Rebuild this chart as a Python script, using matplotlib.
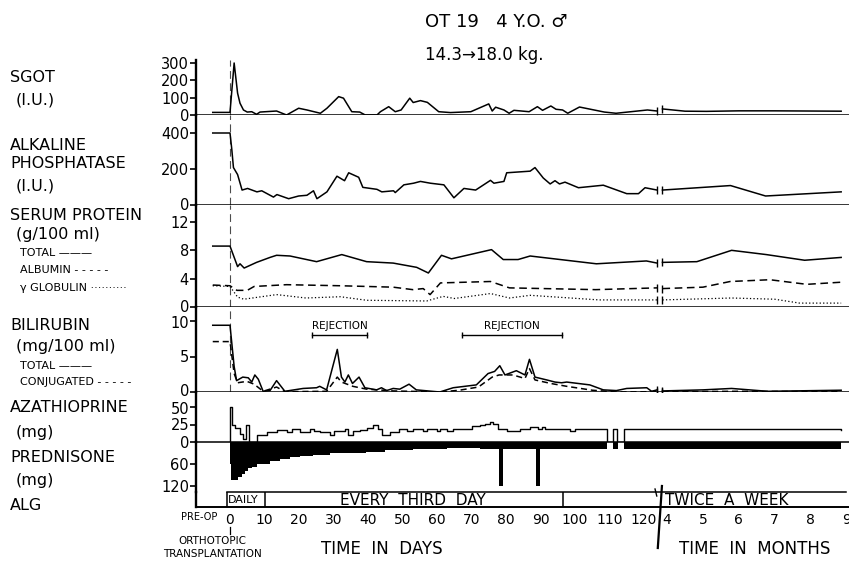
import numpy as np
import matplotlib.pyplot as plt
from matplotlib.transforms import blended_transform_factory, ScaledTranslation

plt.rcParams['font.family'] = ['DejaVu Sans']

# ---- data (days after transplant, pre-op drawn at negative days) ----
sgot_day = [-5, 0, 1.2, 2.2, 2.9, 3.9, 5.0, 6.3, 7.7, 8.7, 13.5, 16.4, 19.9, 22.3, 26.2,
            28.1, 31.5, 32.9, 35.3, 37.6, 39.2, 42.6, 43.6, 46, 47.9, 49.6, 52.1, 53.1,
            55.2, 57.2, 60.5, 63.9, 69.8, 75, 76, 77, 79.4, 80.9, 82.3, 86.7, 89.1, 90.6,
            93, 94.5, 96.4, 97.9, 101.3, 108.5, 111.9, 121, 123.8]
sgot_val = [15, 15, 300, 126, 68, 29, 17, 19, 4, 17, 23, 0, 39, 29, 10,
            39, 106, 97, 19, 17, 0, 0, 19, 48, 19, 29, 97, 72,
            83, 73, 19, 14, 19, 64, 23, 45, 29, 10, 27, 19, 48, 27,
            52, 33, 29, 10, 46, 17, 10, 29, 23]
sgot_month = [3.87, 4.5, 5.1, 6.0, 7.0, 8.86]
sgot_mval = [35, 22, 21, 24, 24, 22]

alk_day = [-5, 0, 0.5, 1.0, 2.2, 3.5, 5.1, 7.8, 9.2, 12.6, 13.6, 17, 19.9, 22.3, 24.2, 25.2,
           28.1, 31, 33.2, 34.4, 37.3, 38.5, 42.6, 44, 47.4, 47.9, 50.4, 53.2, 55.2, 58.1,
           62, 64.9, 67.8, 71.2, 75.5, 76.5, 79.4, 80.2, 87, 88.4, 90.8, 92.8, 94.2, 95.5,
           97.1, 101, 108.2, 115, 118.4, 120.3, 123.8]
alk_val = [400, 400, 313, 208, 169, 83, 92, 73, 79, 44, 58, 35, 50, 54, 79, 35,
           73, 160, 135, 179, 154, 98, 87, 73, 79, 69, 112, 121, 131, 121,
           112, 40, 92, 83, 137, 121, 131, 179, 188, 208, 150, 117, 135, 117,
           127, 96, 110, 63, 63, 96, 83]
alk_month = [3.87, 5.77, 6.75, 8.86]
alk_mval = [83, 108, 50, 73]

prot_day = [-5, 0, 2.2, 2.9, 4.1, 7.7, 11.6, 13.5, 17.4, 25.1, 32.4, 39.6, 47.3, 54.1,
            57.5, 61.3, 64.2, 75.8, 79.2, 83.5, 87, 106.2, 120.7, 123.8]
prot_total = [8.6, 8.6, 5.7, 6.1, 5.5, 6.3, 7.0, 7.3, 7.2, 6.4, 7.4, 6.4, 6.2, 5.6,
              4.8, 7.3, 6.8, 8.1, 6.7, 6.7, 7.2, 6.1, 6.5, 6.2]
prot_month = [3.87, 4.83, 5.8, 6.77, 7.84, 8.86]
prot_mtotal = [6.3, 6.4, 8.0, 7.4, 6.6, 7.0]

alb_day = [-5, 0, 2, 5, 7, 16.4, 32, 47.3, 53, 56, 58, 61, 75.5, 81, 106, 123.8]
alb_val = [3.1, 3.0, 2.35, 2.35, 2.9, 3.15, 3.0, 2.8, 2.45, 2.6, 1.75, 3.4, 3.6, 2.7, 2.45, 2.7]
alb_month = [3.87, 5.0, 5.76, 6.87, 7.9, 8.86]
alb_mval = [2.6, 2.8, 3.6, 3.85, 3.2, 3.5]

glob_day = [-5, 0, 2.2, 4, 13.5, 22, 32, 39.6, 57, 61.8, 65, 75.5, 81, 87, 107, 123.8]
glob_val = [3.0, 2.9, 1.4, 1.1, 1.75, 1.27, 1.45, 0.95, 0.85, 1.5, 1.2, 1.9, 1.27, 1.65, 1.0, 1.0]
glob_month = [3.87, 5.8, 7.0, 7.7, 8.86]
glob_mval = [1.0, 1.27, 1.1, 0.55, 0.55]

bili_day = [-5, 0, 1.2, 1.9, 3.7, 5.3, 6.3, 7.2, 8.2, 9.6, 11.6, 13.5, 15.9, 21.2, 25.1, 26,
            28, 31.1, 32.3, 33.3, 34.3, 35.5, 37.4, 39.1, 42.5, 43.9, 45.4, 47.3, 49.2, 51.9,
            54, 60.8, 64.7, 71.4, 74.8, 76.7, 78.2, 79.7, 83, 85.5, 86.8, 88.4, 91.8, 94.2,
            96.1, 97.6, 104.3, 108.2, 112, 115, 120.8, 122.2, 123.8]
bili_total = [9.4, 9.4, 3.6, 1.6, 2.1, 2.0, 1.4, 2.4, 1.8, 0.1, 0.2, 1.6, 0.1, 0.5, 0.6, 0.8,
              0.3, 6.0, 2.1, 1.4, 2.4, 1.2, 2.1, 0.6, 0.3, 0.6, 0.2, 0.5, 0.4, 1.1,
              0.3, 0.0, 0.6, 1.0, 2.6, 2.9, 3.7, 2.4, 3.0, 2.4, 4.6, 2.1, 1.7, 1.4,
              1.3, 1.4, 1.0, 0.3, 0.2, 0.5, 0.6, 0.1, 0.3]
bili_month = [3.87, 5.0, 5.8, 6.8, 8.86]
bili_mtotal = [0.15, 0.3, 0.5, 0.1, 0.25]

conj_day = [-5, 0, 1.2, 2.2, 4.9, 7, 9.6, 13.5, 15.9, 28, 31.1, 32.3, 35.6, 39.6, 47.3,
            60.8, 66.5, 72, 76, 78, 82, 85.5, 86.8, 88.4, 93, 97.6, 105, 112, 123.8]
conj_val = [7.1, 7.1, 2.6, 1.3, 1.5, 1.1, 0.1, 0.7, 0.05, 0.1, 2.1, 1.4, 0.8, 0.4, 0.15,
            0.0, 0.25, 0.7, 2.1, 2.4, 2.4, 1.9, 3.3, 1.7, 1.2, 0.8, 0.25, 0.0, 0.05]
conj_month = [3.87, 6.0, 8.86]
conj_mval = [0.05, 0.1, 0.05]

rejection = [(23.7, 39.8), (67.2, 96.1)]

aza_day = [0, 0, 0.5, 1.4, 2.9, 3.9, 4.6, 5.4, 7.7, 10.6, 13.5, 16.4, 17.9, 20.3, 23.2, 24.3,
           26.1, 29, 30, 31.9, 33.3, 34.3, 35.7, 37.7, 39.6, 41.5, 43, 44.2, 46.4, 49.1,
           51.2, 53.1, 56, 57, 59.9, 60.9, 62.8, 64.7, 70, 72.5, 73.9, 75.4, 76.3, 77.8,
           80.2, 84, 87, 89.4, 90.4, 91.3, 98.6, 100, 109.2, 111.1, 112.1, 114.2]
aza_val = [0, 50, 25, 20, 12, 5, 25, 0, 10.6, 13.9, 16.7, 13.9, 19, 13.9, 18.5, 15.3,
           13.9, 10.6, 15.3, 16.2, 19, 9.7, 15.3, 17.6, 19.9, 23.6, 18.5, 9.7, 13.9, 18.5,
           15.3, 18.5, 15.3, 18.5, 15.3, 18.5, 15.3, 18.5, 22.2, 23.6, 25.5, 29.2, 25.5, 18.5,
           15.3, 18.5, 21, 18.5, 22, 18.5, 15.3, 18.5, 0, 18.5, 0, 18.5]
aza_month = [3.87, 8.86]
aza_mval = [18, 17]

pred_day = [0, 0.3, 2.4, 3.4, 4.3, 5.3, 6.3, 7.7, 11.6, 14.5, 17.4, 20.3, 24.2, 29, 33.8,
            39.5, 45, 53.1, 62.8, 72.5, 78.0, 79.2, 88.6, 89.8, 109.2, 111.1, 112.5, 114.2]
pred_val = [60, 103, 95, 86, 78, 71, 67, 60, 52, 46, 42, 38, 35, 31, 29,
            26, 22, 19, 17, 18, 120, 20, 120, 20, 0, 20, 0, 20]
pred_month = [3.87, 8.86]
pred_mval = [20, 20]

day_ticks = [0, 10, 20, 30, 40, 50, 60, 70, 80, 90, 100, 110, 120]
month_ticks = [4, 5, 6, 7, 8, 9]

# ---- layout (pixel geometry of the original) ----
W, H = 849, 562
X0, X1 = 196, 849
DAY0_PX, PX_PER_DAY = 230, 3.45
XLIM = ((X0 - DAY0_PX) / PX_PER_DAY, (X1 - DAY0_PX) / PX_PER_DAY)
BREAK_X = 124.6


def month_x(m):
    # months are drawn on a compressed scale to the right of the break
    return 126.7 + (np.asarray(m, float) - 4) * 10.38


fig = plt.figure(figsize=(W / 100, H / 100), dpi=100)
fig.patch.set_facecolor('white')


def panel(top, bottom, zero_px, ref_px, ref_val, ticks):
    ax = fig.add_axes([X0 / W, 1 - bottom / H, (X1 - X0) / W, (bottom - top) / H])
    k = (zero_px - ref_px) / ref_val
    ax.set_ylim((zero_px - bottom) / k, (zero_px - top) / k)
    ax.set_xlim(*XLIM)
    ax.patch.set_visible(False)
    for s in ['top', 'right', 'bottom']:
        ax.spines[s].set_visible(False)
    ax.spines['left'].set_linewidth(1.7)
    ax.set_xticks([])
    ax.set_yticks(ticks)
    ax.tick_params(axis='y', length=4, width=1.2, labelsize=10.5, pad=1)
    ax.axhline(0, color='k', lw=1.1)
    return ax


def two_part(ax, d, v, m, mv, **kw):
    ax.plot(d, v, color='k', **kw)
    ax.plot(month_x(m), mv, color='k', **kw)
    ax.plot([d[-1], month_x(m[0])], [v[-1], mv[0]], ls='none', marker='|',
            ms=6, mew=1.0, color='k')


def nudge(ax, index, dy_px):
    lab = ax.yaxis.get_major_ticks()[index].label1
    lab.set_transform(lab.get_transform() + ScaledTranslation(0, dy_px / 100, fig.dpi_scale_trans))


lw = 1.1
ax1 = panel(60, 115, 115, 63, 300, [0, 100, 200, 300])
two_part(ax1, sgot_day, sgot_val, sgot_month, sgot_mval, lw=lw)

ax2 = panel(115, 205, 205, 133, 400, [0, 200, 400])
two_part(ax2, alk_day, alk_val, alk_month, alk_mval, lw=lw)

ax3 = panel(205, 307, 307, 222, 12, [0, 4, 8, 12])
two_part(ax3, prot_day, prot_total, prot_month, prot_mtotal, lw=lw)
two_part(ax3, alb_day, alb_val, alb_month, alb_mval, lw=lw, ls=(0, (5, 3)))
two_part(ax3, glob_day, glob_val, glob_month, glob_mval, lw=0.9, ls=(0, (1, 1.8)))

ax4 = panel(307, 392, 392, 321, 10, [0, 5, 10])
two_part(ax4, bili_day, bili_total, bili_month, bili_mtotal, lw=lw)
two_part(ax4, conj_day, conj_val, conj_month, conj_mval, lw=lw, ls=(0, (4, 2.5)))
for a, b in rejection:
    ax4.plot([a, b], [8.0, 8.0], color='k', lw=1.0, marker='|', ms=5, markevery=[0, 1])
    ax4.text((a + b) / 2, 8.55, 'REJECTION', ha='center', va='bottom', fontsize=7.5)

ax5 = panel(392, 442, 442, 407, 50, [0, 25, 50])
ax5.plot(np.concatenate([aza_day, month_x(aza_month)]), np.concatenate([aza_val, aza_mval]),
         drawstyle='steps-post', color='k', lw=1.0)

ax6 = panel(442, 492, 442, 486, 120, [60, 120])
ax6.fill_between(np.concatenate([pred_day, month_x(pred_month)]),
                 0, np.concatenate([pred_val, pred_mval]), step='post', color='k', lw=0)

# transplant marker through the upper panels
for ax in (ax1, ax2, ax3, ax4):
    ax.axvline(0, color='k', lw=0.8, ls=(0, (7, 4)), alpha=0.7)

# ALG row + time axis
alg = fig.add_axes([X0 / W, 1 - 507 / H, (X1 - X0) / W, 15 / H])
alg.set_xlim(*XLIM)
alg.set_ylim(0, 1)
alg.patch.set_visible(False)
for s in ['top', 'right']:
    alg.spines[s].set_visible(False)
alg.spines['left'].set_linewidth(1.7)
alg.spines['bottom'].set_linewidth(1.4)
alg.set_yticks([])
alg.plot([-0.9, XLIM[1] - 1], [1, 1], color='k', lw=1.1, clip_on=False)
for xd in (-0.9, 10, 96.5):
    alg.plot([xd, xd], [0, 1], color='k', lw=1.1)
alg.text(-0.5, 0.45, 'DAILY', fontsize=8, va='center', ha='left')
alg.text(53, 0.45, 'EVERY  THIRD  DAY', fontsize=11, va='center', ha='center')
alg.text(month_x(3.95), 0.45, 'TWICE  A  WEEK', fontsize=11, va='center', ha='left')

xt = list(day_ticks) + list(month_x(month_ticks))
xl = [str(t) for t in day_ticks] + [str(t) for t in month_ticks]
alg.set_xticks(xt)
alg.set_xticklabels(xl)
alg.tick_params(axis='x', length=0, labelsize=10, pad=4)
alg.text(-3.6, -0.7, 'PRE-OP', fontsize=7, ha='right', va='center')

tr = blended_transform_factory(alg.transData, fig.transFigure)
alg.plot([BREAK_X + 0.6, BREAK_X - 0.6], [1 - 486 / H, 1 - 548 / H], color='k', lw=1.6,
         transform=tr, clip_on=False)
alg.plot([BREAK_X - 1.4, BREAK_X - 0.9], [1 - 489 / H, 1 - 496 / H], color='k', lw=1.0,
         transform=tr, clip_on=False)
alg.plot([0, 0], [1 - 527 / H, 1 - 534 / H], color='k', lw=0.9, transform=tr, clip_on=False)

fig.text(212 / W, 1 - 541 / H, 'ORTHOTOPIC', fontsize=7.5, ha='center', va='center')
fig.text(212 / W, 1 - 554 / H, 'TRANSPLANTATION', fontsize=7.5, ha='center', va='center')
fig.text(382 / W, 1 - 549 / H, 'TIME  IN  DAYS', fontsize=12, ha='center', va='center')
fig.text(755 / W, 1 - 549 / H, 'TIME  IN  MONTHS', fontsize=12, ha='center', va='center')

# title
fig.text(425 / W, 1 - 22 / H, 'OT 19   4 Y.O. \u2642', fontsize=13, ha='left', va='center')
fig.text(425 / W, 1 - 55 / H, '14.3\u219218.0 kg.', fontsize=12, ha='left', va='center')

# row labels
labels = [
    ('SGOT', 10, 78, 11.5), ('(I.U.)', 16, 100, 11.5),
    ('ALKALINE', 10, 146, 11.5), ('PHOSPHATASE', 10, 164, 11.5), ('(I.U.)', 16, 186, 11.5),
    ('SERUM PROTEIN', 10, 215, 11.5), ('(g/100 ml)', 16, 234, 11.5),
    ('TOTAL \u2014\u2014\u2014', 20, 253, 8), ('ALBUMIN - - - - -', 20, 270, 8),
    ('\u03b3 GLOBULIN \u00b7\u00b7\u00b7\u00b7\u00b7\u00b7\u00b7\u00b7\u00b7\u00b7', 20, 288, 8),
    ('BILIRUBIN', 10, 325, 11.5), ('(mg/100 ml)', 16, 347, 11.5),
    ('TOTAL \u2014\u2014\u2014', 20, 366, 8), ('CONJUGATED - - - - -', 20, 382, 8),
    ('AZATHIOPRINE', 10, 408, 11.5), ('(mg)', 16, 432, 11.5),
    ('PREDNISONE', 10, 458, 11.5), ('(mg)', 16, 480, 11.5),
    ('ALG', 10, 505, 11.5),
]
for txt, x, y, fs in labels:
    fig.text(x / W, 1 - y / H, txt, fontsize=fs, ha='left', va='center')

# keep stacked tick labels at panel joins from colliding
fig.canvas.draw()
nudge(ax3, 0, 1.5)    # protein 0
nudge(ax4, 2, -1.5)   # bilirubin 10
nudge(ax4, 0, 1.5)    # bilirubin 0
nudge(ax5, 2, -1.5)   # azathioprine 50
nudge(ax2, 0, 0.5)
nudge(ax3, 3, -0.5)

fig.savefig('out.png', dpi=100)
